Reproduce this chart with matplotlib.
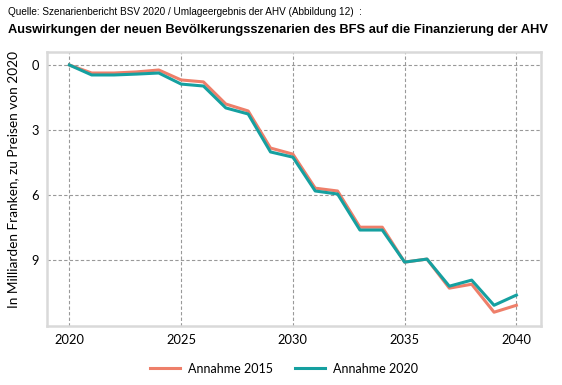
import matplotlib
matplotlib.use('Agg')
import matplotlib.pyplot as plt

years = list(range(2020, 2041))
annahme_2015 = [0, 0.37, 0.37, 0.32, 0.23, 0.69, 0.78, 1.80, 2.12, 3.83, 4.11,
                5.68, 5.81, 7.48, 7.48, 9.09, 8.95, 10.29, 10.11, 11.40, 11.08]
annahme_2020 = [0, 0.46, 0.46, 0.42, 0.37, 0.88, 0.97, 1.98, 2.26, 4.01, 4.25,
                5.81, 5.95, 7.61, 7.61, 9.09, 8.95, 10.20, 9.92, 11.08, 10.61]
xticks = [2020, 2025, 2030, 2035, 2040]
yticks = [0, 3, 6, 9]

fig = plt.figure(figsize=(5.62, 3.85), dpi=100)
ax = fig.add_axes([0.0836, 0.153, 0.879, 0.712])

ax.plot(years, annahme_2015, color='#EE7F6A', lw=2.2, label='Annahme 2015')
ax.plot(years, annahme_2020, color='#15A0A0', lw=2.2, label='Annahme 2020')

ax.set_xlim(2019.0, 2041.1)
ax.set_ylim(12.04, -0.6)
ax.set_xticks(xticks)
ax.set_yticks(yticks)
ax.grid(True, ls=(0, (3, 2)), color='#999999', lw=0.8)
ax.tick_params(length=0, labelsize=9.3, pad=6)
for lab in ax.get_xticklabels() + ax.get_yticklabels():
    lab.set_fontfamily('Lato')
for s in ax.spines.values():
    s.set_color('#d9d9d9')
    s.set_linewidth(1.8)

ax.set_ylabel('In Milliarden Franken, zu Preisen von 2020', fontsize=9.8,
              family='Lato')
ax.yaxis.set_label_coords(-0.057, 0.533)

fig.text(0.014, 0.97, 'Quelle: Szenarienbericht BSV 2020 / Umlageergebnis der AHV (Abbildung 12)  :',
         fontsize=7.2, family='Liberation Sans', va='center')
fig.text(0.014, 0.922, 'Auswirkungen der neuen Bevölkerungsszenarien des BFS auf die Finanzierung der AHV',
         fontsize=9.3, family='Liberation Sans', weight='bold', va='center')

fig.legend(loc='center', bbox_to_anchor=(0.505, 0.042), ncol=2, frameon=False,
           prop={'family': 'Lato', 'size': 9}, handlelength=2.4, handletextpad=0.6,
           columnspacing=1.8)

fig.savefig('out.png', dpi=100)
